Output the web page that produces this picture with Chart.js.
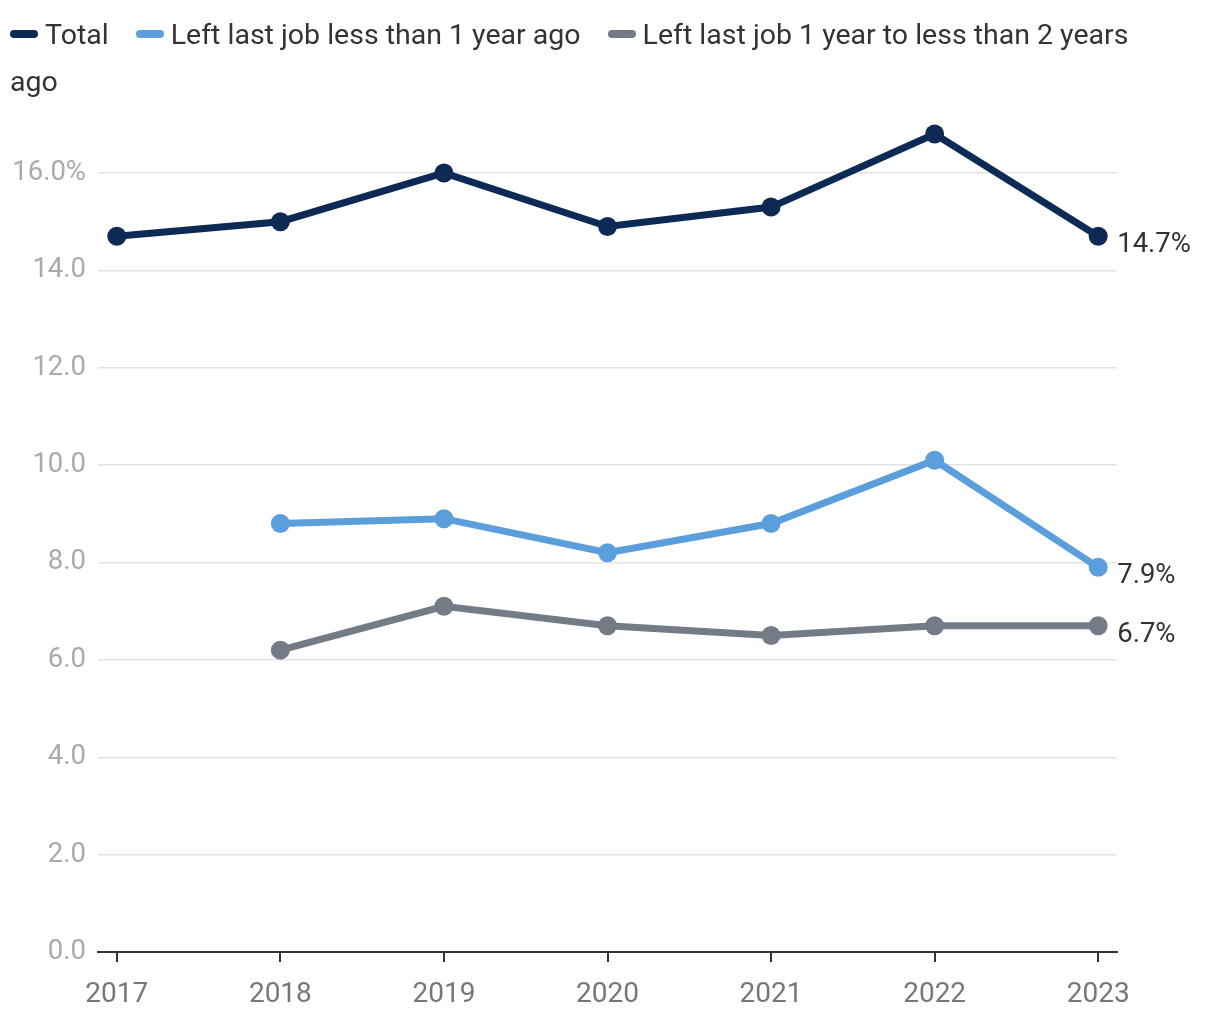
<!DOCTYPE html>
<html>
<head>
<meta charset="utf-8">
<script src="https://cdn.jsdelivr.net/npm/chart.js@4/dist/chart.umd.min.js"></script>
<style>
  body { margin: 0; background: #fff; font-family: Roboto, "Noto Sans", sans-serif; }
  #wrap { position: relative; width: 1220px; height: 1020px; }
  #legend {
    position: absolute; left: 10px; top: 11px; width: 1160px;
    font-size: 28.5px; line-height: 47px; color: #333;
  }
  #legend .item { margin-right: 20px; }
  #legend .sw {
    display: inline-block; width: 28px; height: 8px; border-radius: 4px;
    vertical-align: middle; margin-right: 7px; position: relative; top: -2px;
  }
  canvas { position: absolute; left: 0; top: 0; }
</style>
</head>
<body>
<div id="wrap">
  <canvas id="chart" width="1220" height="1020"></canvas>
  <div id="legend"></div>
</div>
<script>
const years = [2017, 2018, 2019, 2020, 2021, 2022, 2023];
const total = [14.7, 15.0, 16.0, 14.9, 15.3, 16.8, 14.7];
const lessThanOne = [null, 8.8, 8.9, 8.2, 8.8, 10.1, 7.9];
const oneToTwo = [null, 6.2, 7.1, 6.7, 6.5, 6.7, 6.7];
const yTicks = [0, 2, 4, 6, 8, 10, 12, 14, 16];

const seriesNames = ['Total', 'Left last job less than 1 year ago', 'Left last job 1 year to less than 2 years ago'];
const seriesColors = ['#0d2a55', '#5a9fdc', '#737b86'];
const seriesValues = [total, lessThanOne, oneToTwo];

// html legend so the long label can wrap like the original
const legend = document.getElementById('legend');
seriesNames.forEach((name, i) => {
    const span = document.createElement('span');
    span.className = 'item';
    span.innerHTML = '<span class="sw" style="background:' + seriesColors[i] + '"></span>' + name;
    legend.appendChild(span);
    legend.appendChild(document.createTextNode(' '));
});

const endLabels = {
    id: 'endLabels',
    afterDatasetsDraw(chart) {
        const ctx = chart.ctx;
        ctx.save();
        ctx.font = '27.5px Roboto, "Noto Sans", sans-serif';
        ctx.fillStyle = '#333';
        ctx.textBaseline = 'middle';
        chart.data.datasets.forEach((ds, i) => {
            const meta = chart.getDatasetMeta(i);
            const pt = meta.data[meta.data.length - 1];
            const v = seriesValues[i][seriesValues[i].length - 1];
            ctx.fillText(v.toFixed(1) + '%', pt.x + 19, pt.y + 9);
        });
        ctx.restore();
    }
};

// y max a bit above 16 so the 16.8 point is not dropped; ticks stop at 16
const yMax = 17.2;
const pxPerUnit = (952 - 173) / 16;

const ctx = document.getElementById('chart').getContext('2d');
new Chart(ctx, {
    type: 'line',
    data: {
        datasets: seriesValues.map((vals, i) => ({
            label: seriesNames[i],
            data: years.map((yr, j) => ({ x: yr, y: vals[j] })).filter(p => p.y !== null),
            borderColor: seriesColors[i],
            backgroundColor: seriesColors[i],
            borderWidth: 7,
            pointRadius: 9.5,
            pointBorderWidth: 0,
            pointHoverRadius: 9.5,
            fill: false,
            tension: 0,
            clip: false
        }))
    },
    options: {
        responsive: false,
        animation: false,
        layout: { padding: { top: 173 - (yMax - 16) * pxPerUnit, right: 103, left: 0, bottom: 0 } },
        plugins: {
            legend: { display: false },
            tooltip: { enabled: false }
        },
        scales: {
            x: {
                type: 'linear',
                min: 2016.885,
                max: 2023.115,
                afterBuildTicks: scale => { scale.ticks = years.map(v => ({ value: v })); },
                afterFit: scale => { scale.height = 68; },
                ticks: {
                    callback: v => String(v),
                    color: '#777',
                    font: { family: 'Roboto', size: 28 },
                    padding: 16,
                    autoSkip: false,
                    maxRotation: 0
                },
                grid: {
                    drawOnChartArea: false,
                    drawTicks: true,
                    tickLength: 10,
                    color: '#333',
                    lineWidth: 2
                },
                border: { display: true, color: '#333', width: 2 }
            },
            y: {
                min: 0,
                max: yMax,
                afterBuildTicks: scale => { scale.ticks = yTicks.map(v => ({ value: v })); },
                afterFit: scale => { scale.width = 98; },
                ticks: {
                    callback: v => v === 16 ? '16.0%' : v.toFixed(1),
                    color: '#aaa',
                    font: { family: 'Roboto', size: 27.5 },
                    padding: 12
                },
                grid: {
                    color: '#e3e3e3',
                    lineWidth: 1.5,
                    drawTicks: false
                },
                border: { display: false }
            }
        }
    },
    plugins: [endLabels]
});
</script>
</body>
</html>
